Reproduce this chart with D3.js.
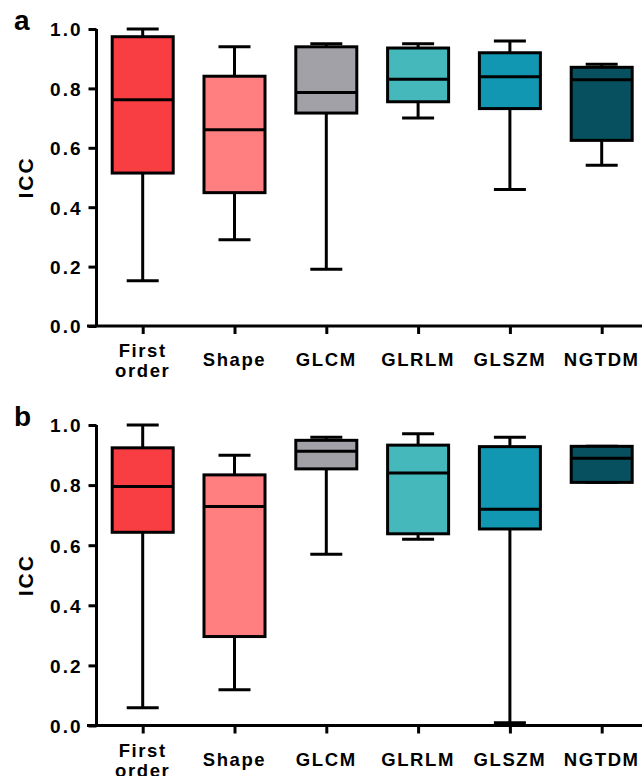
<!DOCTYPE html>
<html>
<head>
<meta charset="utf-8">
<script src="https://d3js.org/d3.v7.min.js"></script>
<style>
  body { margin: 0; background: #fff; }
  svg text { font-family: "Liberation Sans", Arial, Helvetica, sans-serif; font-weight: bold; fill: #000; }
</style>
</head>
<body>
<script>
// categories and colours
var categories = ["First order", "Shape", "GLCM", "GLRLM", "GLSZM", "NGTDM"];
var colors = ["#f93e43", "#ff7f80", "#a3a1a8", "#45b8bc", "#1297b2", "#06505f"];
var yTicks = [0.0, 0.2, 0.4, 0.6, 0.8, 1.0];

// panel a : min, q1, median, q3, max
var aMin = [0.152, 0.290, 0.191, 0.700, 0.460, 0.541];
var aQ1  = [0.515, 0.449, 0.717, 0.755, 0.732, 0.625];
var aMed = [0.762, 0.661, 0.786, 0.831, 0.839, 0.829];
var aQ3  = [0.974, 0.841, 0.940, 0.936, 0.920, 0.871];
var aMax = [1.000, 0.940, 0.950, 0.950, 0.960, 0.881];

// panel b
var bMin = [0.059, 0.119, 0.570, 0.620, 0.009, 0.809];
var bQ1  = [0.643, 0.296, 0.854, 0.638, 0.654, 0.809];
var bMed = [0.795, 0.729, 0.913, 0.840, 0.720, 0.889];
var bQ3  = [0.924, 0.834, 0.949, 0.933, 0.928, 0.929];
var bMax = [1.000, 0.899, 0.959, 0.971, 0.959, 0.929];

var W = 642, H = 776;
var svg = d3.select("body").append("svg").attr("width", W).attr("height", H);

var x = d3.scalePoint().domain(categories).range([142.7, 601.7]);
var boxW = 61, capW = 32;

function panel(label, top, bottom, mins, q1s, meds, q3s, maxs) {
  var y = d3.scaleLinear().domain([0, 1]).range([bottom, top]);
  var g = svg.append("g");

  var rows = categories.map(function(c, i) {
    return {cat: c, min: mins[i], q1: q1s[i], med: meds[i], q3: q3s[i], max: maxs[i], color: colors[i]};
  });

  // whiskers
  var wh = g.selectAll(".wh").data(rows).enter().append("g");
  wh.append("line")
    .attr("x1", function(d) { return x(d.cat); }).attr("x2", function(d) { return x(d.cat); })
    .attr("y1", function(d) { return y(d.max); }).attr("y2", function(d) { return y(d.min); })
    .attr("stroke", "#000").attr("stroke-width", 3);
  wh.selectAll(".cap").data(function(d) { return [{cat: d.cat, v: d.min}, {cat: d.cat, v: d.max}]; })
    .enter().append("line")
    .attr("x1", function(d) { return x(d.cat) - capW / 2; }).attr("x2", function(d) { return x(d.cat) + capW / 2; })
    .attr("y1", function(d) { return y(d.v); }).attr("y2", function(d) { return y(d.v); })
    .attr("stroke", "#000").attr("stroke-width", 3);

  // boxes
  g.selectAll(".box").data(rows).enter().append("rect")
    .attr("x", function(d) { return x(d.cat) - boxW / 2; })
    .attr("y", function(d) { return y(d.q3); })
    .attr("width", boxW)
    .attr("height", function(d) { return y(d.q1) - y(d.q3); })
    .attr("fill", function(d) { return d.color; })
    .attr("stroke", "#000").attr("stroke-width", 3);

  g.selectAll(".med").data(rows).enter().append("line")
    .attr("x1", function(d) { return x(d.cat) - boxW / 2; }).attr("x2", function(d) { return x(d.cat) + boxW / 2; })
    .attr("y1", function(d) { return y(d.med); }).attr("y2", function(d) { return y(d.med); })
    .attr("stroke", "#000").attr("stroke-width", 3);

  // y axis
  var ya = g.append("g").attr("transform", "translate(96.5,0)")
    .call(d3.axisLeft(y).tickValues(yTicks).tickFormat(d3.format(".1f")).tickSize(8).tickPadding(6));
  ya.select(".domain").attr("stroke-width", 3).attr("d", "M0," + top + "V" + bottom);
  ya.selectAll(".tick line").attr("stroke-width", 3);
  ya.selectAll("text").style("font-size", "19px").style("letter-spacing", "2px").attr("dy", "0.36em");

  // x axis
  var xa = g.append("g").attr("transform", "translate(0," + bottom + ")")
    .call(d3.axisBottom(x).tickSize(8).tickFormat(""));
  xa.select(".domain").attr("stroke-width", 3).attr("d", "M87,0H" + W);
  xa.selectAll(".tick line").attr("stroke-width", 3);

  g.selectAll(".xl").data(categories).enter().append("text")
    .attr("text-anchor", "middle")
    .attr("x", function(d) { return x(d); })
    .attr("y", bottom + 40)
    .style("font-size", "18.5px").style("letter-spacing", "1.6px")
    .each(function(d) {
      var parts = d.split(" ");
      var t = d3.select(this);
      if (parts.length > 1) {
        t.append("tspan").attr("x", x(d)).attr("dy", "-9").text(parts[0]);
        t.append("tspan").attr("x", x(d)).attr("dy", "20").text(parts[1]);
      } else {
        t.text(d);
      }
    });

  g.append("text")
    .attr("transform", "translate(33," + ((top + bottom) / 2) + ") rotate(-90)")
    .attr("text-anchor", "middle")
    .style("font-size", "21px").style("letter-spacing", "2px")
    .text("ICC");

  g.append("text").attr("x", 14).attr("y", top + 1)
    .style("font-size", "28px")
    .text(label);
}

panel("a", 29, 326, aMin, aQ1, aMed, aQ3, aMax);
panel("b", 425, 725.5, bMin, bQ1, bMed, bQ3, bMax);
</script>
</body>
</html>
